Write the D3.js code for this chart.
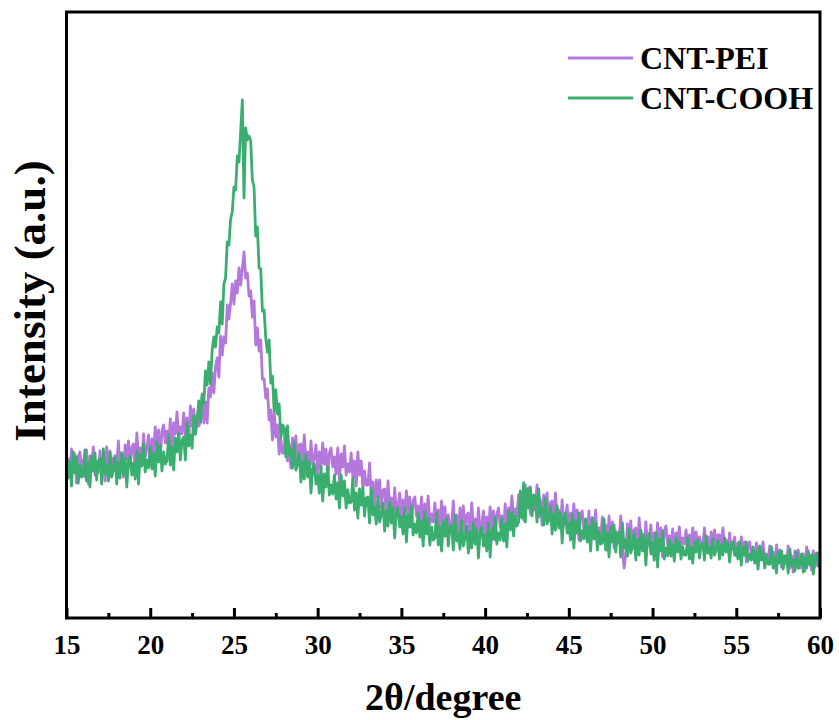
<!DOCTYPE html>
<html lang="en">
    <head>
        <meta charset="utf-8">
        <title>XRD CNT-PEI / CNT-COOH</title>
        <script src="https://d3js.org/d3.v7.min.js"></script>
        <style type="text/css">
                body { margin: 0; background: #fff; }
                text {
                    font-family: "Liberation Serif", "Times New Roman", serif;
                    font-weight: bold;
                    fill: #000;
                }
                .axis text { font-size: 27px; }
                .axis line { stroke: #000; stroke-width: 3px; }
                .trace { fill: none; stroke-width: 2.8px; stroke-linejoin: round; }
        </style>
    </head>
    <body>
        <script type="text/javascript">
        var w = 839;
        var h = 720;
        // note: "top" is taken by window.top, so use other names
        var plotLeft = 66.5, plotRight = 820, plotTop = 12, plotBottom = 618;

        // scan: 15 to 60 degrees, 0.1 degree step
        var angleStart = 15;
        var angleStep = 0.1;

        var seriesNames = ["CNT-PEI", "CNT-COOH"];
        var seriesColors = ["#b478dc", "#3aae6e"];
        var majorTicks = [15, 20, 25, 30, 35, 40, 45, 50, 55, 60];
        var minorTicks = [17.5, 22.5, 27.5, 32.5, 37.5, 42.5, 47.5, 52.5, 57.5];

        // intensity (a.u.), one row per degree
        var cntPei = [
            138,159,144,169,148,164,135,161,166,147,
            158,141,168,134,162,150,171,143,154,146,
            167,144,161,137,171,151,167,141,160,148,
            151,177,146,165,141,173,159,177,151,171,
            174,149,185,161,170,155,184,161,169,183,
            157,179,165,191,171,188,160,187,193,175,
            187,171,199,166,195,184,206,179,191,184,
            205,183,200,177,212,192,209,184,203,192,
            196,224,195,216,195,230,221,245,225,251,
            260,241,282,263,281,275,313,299,315,334,
            314,337,325,350,333,349,366,340,345,322,
            327,301,317,273,290,267,278,239,239,220,
            229,198,208,178,207,181,193,164,179,165,
            165,189,157,174,150,180,164,182,154,173,
            174,149,183,158,166,150,177,153,160,173,
            145,166,150,175,154,169,140,165,170,151,
            161,144,170,136,164,151,172,143,154,146,
            165,141,157,132,166,143,157,130,147,133,
            133,155,121,136,109,138,121,138,110,128,
            129,103,137,112,120,103,130,105,112,125,
            97,118,102,127,105,121,91,117,121,102,
            112,95,121,87,114,102,122,94,104,96,
            115,92,108,83,117,96,111,85,103,90,
            92,117,86,103,79,110,94,112,85,103,
            105,80,115,90,99,82,110,86,94,107,
            80,101,86,111,91,107,78,104,110,91,
            102,86,114,81,110,99,122,96,109,102,
            123,102,120,98,133,113,130,104,121,108,
            109,133,101,118,93,123,107,125,97,115,
            117,91,125,100,108,91,118,93,101,113,
            85,105,90,114,92,108,78,103,107,88,
            98,80,107,72,100,87,108,79,90,81,
            101,77,93,68,102,81,96,70,87,75,
            77,102,70,50,64,94,79,97,69,88,
            90,65,100,75,84,68,96,72,80,93,
            64,85,70,95,74,90,61,87,92,73,
            82,71,89,66,85,77,91,72,80,74,
            88,72,83,67,90,76,86,69,81,73,
            73,90,69,81,65,86,76,88,70,83,
            83,66,90,72,78,66,85,68,73,81,
            62,75,65,81,66,76,56,73,76,63,
            69,58,75,52,71,62,76,57,64,58,
            72,56,66,50,73,58,68,51,62,54,
            55,72,50,62,46,67,56,68,50,63,
            64,47,71,54,59,48,67,51,56,65,
            57
        ];

        var cntCooh = [
            163,140,156,132,166,145,161,135,153,141,
            143,168,137,155,131,162,147,165,138,157,
            159,134,169,144,153,137,165,141,149,162,
            134,155,140,165,144,160,131,157,162,143,
            155,139,167,134,163,152,174,146,158,150,
            171,149,165,142,176,156,172,147,166,154,
            157,183,153,171,148,180,166,185,158,178,
            181,158,195,172,183,170,202,184,198,217,
            196,223,215,247,233,256,234,268,281,271,
            291,285,316,294,334,340,376,373,399,406,
            431,428,462,456,486,518,420,490,478,482,
            477,438,431,382,391,350,349,307,308,280,
            266,278,235,242,207,228,204,214,180,193,
            190,161,192,163,169,150,175,148,154,165,
            136,156,139,163,141,156,125,150,154,134,
            143,125,151,117,144,131,151,123,133,124,
            143,119,135,110,143,122,137,110,128,115,
            116,140,108,125,100,129,113,130,102,120,
            121,95,129,103,111,94,121,96,103,115,
            87,107,92,116,95,110,80,106,110,91,
            101,84,110,76,103,91,112,83,94,85,
            105,81,97,72,106,84,100,73,91,78,
            80,105,73,91,67,97,82,100,72,91,
            93,68,102,77,85,69,97,72,80,92,
            65,86,70,95,74,89,60,86,91,72,
            83,67,95,61,90,79,101,74,85,78,
            99,77,94,71,107,88,106,82,102,92,
            96,127,100,135,96,129,110,131,102,123,
            122,96,129,103,110,93,119,94,101,112,
            84,104,88,112,90,105,75,101,105,85,
            95,78,104,70,97,85,105,77,87,79,
            99,76,91,67,100,79,95,68,86,74,
            75,99,68,85,61,91,76,93,66,84,
            86,61,95,70,78,62,89,65,73,85,
            58,79,63,88,67,82,53,79,84,64,
            75,58,85,51,79,67,87,59,70,62,
            78,62,73,57,80,66,76,59,71,63,
            63,80,59,71,55,76,66,78,60,73,
            75,58,82,65,71,60,79,63,68,77,
            59,73,63,80,66,75,56,73,76,63,
            70,59,76,53,71,63,76,57,64,58,
            71,55,66,49,72,58,67,50,62,54,
            54,71,50,61,45,66,55,67,49,62,
            62,45,69,52,58,47,66,50,55,64,
            46,60,50,67,53,63,44,61,65,52,
            57
        ];

        var allSeries = [cntPei, cntCooh];

        var x = d3.scaleLinear().domain([15, 60]).range([plotLeft, plotRight]);
        var y = d3.scaleLinear().domain([0, 606]).range([plotBottom, plotTop]);

        var svg = d3.select("body")
                .append("svg")
                .attr("width", w)
                .attr("height", h);

        svg.append("clipPath").attr("id", "plot")
            .append("rect")
            .attr("x", plotLeft).attr("y", plotTop)
            .attr("width", plotRight - plotLeft).attr("height", plotBottom - plotTop);

        var line = d3.line()
            .x(function(d, i) { return x(angleStart + i * angleStep); })
            .y(function(d) { return y(d); });

        svg.selectAll("path.trace")
            .data(allSeries)
            .enter()
            .append("path")
            .attr("class", "trace")
            .attr("clip-path", "url(#plot)")
            .attr("stroke", function(d, i) { return seriesColors[i]; })
            .attr("d", line);

        // bottom axis, ticks pointing in
        var xAxis = d3.axisBottom(x)
            .tickValues(majorTicks)
            .tickFormat(d3.format("d"))
            .tickSizeInner(-10)
            .tickSizeOuter(0)
            .tickPadding(17);
        var gx = svg.append("g")
            .attr("class", "axis")
            .attr("transform", "translate(0," + plotBottom + ")")
            .call(xAxis);
        gx.select(".domain").remove();

        var xMinor = d3.axisBottom(x)
            .tickValues(minorTicks)
            .tickFormat("")
            .tickSizeInner(-5)
            .tickSizeOuter(0);
        var gm = svg.append("g")
            .attr("class", "axis")
            .attr("transform", "translate(0," + plotBottom + ")")
            .call(xMinor);
        gm.select(".domain").remove();

        // frame
        svg.append("rect")
            .attr("x", plotLeft).attr("y", plotTop)
            .attr("width", plotRight - plotLeft).attr("height", plotBottom - plotTop)
            .attr("fill", "none")
            .attr("stroke", "#000")
            .attr("stroke-width", 3);

        // legend
        var legend = svg.selectAll("g.legend")
            .data(seriesNames)
            .enter()
            .append("g")
            .attr("class", "legend")
            .attr("transform", function(d, i) { return "translate(568," + (58 + i * 40) + ")"; });
        legend.append("line")
            .attr("x1", 0).attr("x2", 65)
            .attr("stroke", function(d, i) { return seriesColors[i]; })
            .attr("stroke-width", 3);
        legend.append("text")
            .attr("x", 72).attr("y", 11)
            .style("font-size", "32px")
            .text(function(d) { return d; });

        // axis titles
        svg.append("text")
            .attr("x", (plotLeft + plotRight) / 2)
            .attr("y", 710)
            .attr("text-anchor", "middle")
            .style("font-size", "38px")
            .text("2θ/degree");

        svg.append("text")
            .attr("transform", "translate(45,301) rotate(-90)")
            .attr("text-anchor", "middle")
            .style("font-size", "45px")
            .text("Intensity (a.u.)");
        </script>
    </body>
</html>
